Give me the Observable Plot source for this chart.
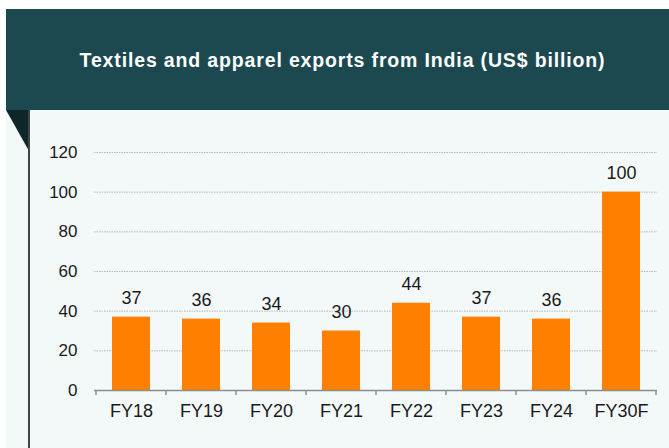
<!DOCTYPE html>
<html>
<head>
<meta charset="utf-8">
<script src="https://cdn.jsdelivr.net/npm/d3@7"></script>
<script src="https://cdn.jsdelivr.net/npm/@observablehq/plot@0.6"></script>
<style>
  html, body { margin: 0; padding: 0; background: #ffffff; }
  #wrap { position: relative; width: 669px; height: 448px; overflow: hidden; font-family: "Liberation Sans", Arial, sans-serif; }
  #header { position: absolute; left: 6px; top: 9px; width: 663px; height: 101px; background: #1c4950; }
  #title { position: absolute; left: 10px; right: 0; top: 51px; transform: translateY(-50%); text-align: center; color: #ffffff; font-weight: bold; font-size: 19.5px; letter-spacing: 0.85px; white-space: nowrap; }
  #panel { position: absolute; left: 6px; top: 110px; width: 663px; height: 338px; background: #f3f8f9; }
  #tri { position: absolute; left: 6px; top: 110px; width: 23px; height: 41px; }
  #vline { position: absolute; left: 28px; top: 110px; width: 1.5px; height: 338px; background: #3c4446; }
  #chart { position: absolute; left: 0; top: 110px; }
</style>
</head>
<body>
<div id="wrap">
  <div id="header"><div id="title">Textiles and apparel exports from India (US$ billion)</div></div>
  <div id="panel"></div>
  <svg id="tri" viewBox="0 0 23 41"><polygon points="0,0 23,0 23,41" fill="#0d262a"></polygon></svg>
  <div id="vline"></div>
  <div id="chart"></div>
</div>
<script>
const categories = ["FY18", "FY19", "FY20", "FY21", "FY22", "FY23", "FY24", "FY30F"];
const exportsUSD = [37, 36, 34, 30, 44, 37, 36, 100];
const yTicks = [0, 20, 40, 60, 80, 100, 120];
const gridTicks = [20, 40, 60, 80, 100, 120];

const data = categories.map((c, i) => ({cat: c, value: exportsUSD[i]}));

const paddingInner = 0.46;

function boundaryTicks(index, scales, values, dims) {
  const x = scales.x, y = scales.y;
  const step = x(categories[1]) - x(categories[0]);
  const bw = typeof x.bandwidth === "function" ? x.bandwidth() : (x.bandwidth ?? step * (1 - paddingInner));
  const y0 = y(0);
  const g = d3.create("svg:g");
  const xs = categories.map(c => x(c) + bw / 2 - step / 2);
  xs.push(x(categories[categories.length - 1]) + bw / 2 + step / 2);
  for (const xv of xs) {
    g.append("line").attr("x1", xv).attr("x2", xv).attr("y1", y0).attr("y2", y0 + 5)
      .attr("stroke", "#8c8c8c").attr("stroke-width", 1.5);
  }
  return g.node();
}

const plot = Plot.plot({
  width: 669,
  height: 338,
  marginLeft: 94,
  marginRight: 12,
  marginTop: 42,
  marginBottom: 58,
  style: {background: "transparent", fontFamily: "'Liberation Sans', Arial, sans-serif", fontSize: "17px", color: "#1a1a1a"},
  x: {domain: categories, paddingInner: paddingInner, paddingOuter: paddingInner / 2, label: null, tickSize: 0, tickPadding: 14},
  y: {domain: [0, 120], ticks: yTicks, label: null, tickSize: 0, tickPadding: 17},
  marks: [
    Plot.ruleY(gridTicks, {stroke: "#b9b9b9", strokeWidth: 1, strokeDasharray: "1.5,1"}),
    Plot.barY(data, {x: "cat", y: "value", fill: "#ff8000"}),
    Plot.ruleY([0], {stroke: "#8c8c8c", strokeWidth: 1.5}),
    boundaryTicks,
    Plot.axisY({ticks: yTicks, tickSize: 0, tickPadding: 17, fontSize: 17, label: null}),
    Plot.axisX({tickSize: 0, tickPadding: 14, fontSize: 18, label: null}),
    Plot.text(data, {x: "cat", y: "value", text: d => String(d.value), dy: -19, fill: "#1a1a1a", fontSize: 18})
  ]
});
document.getElementById("chart").appendChild(plot);
</script>
</body>
</html>
